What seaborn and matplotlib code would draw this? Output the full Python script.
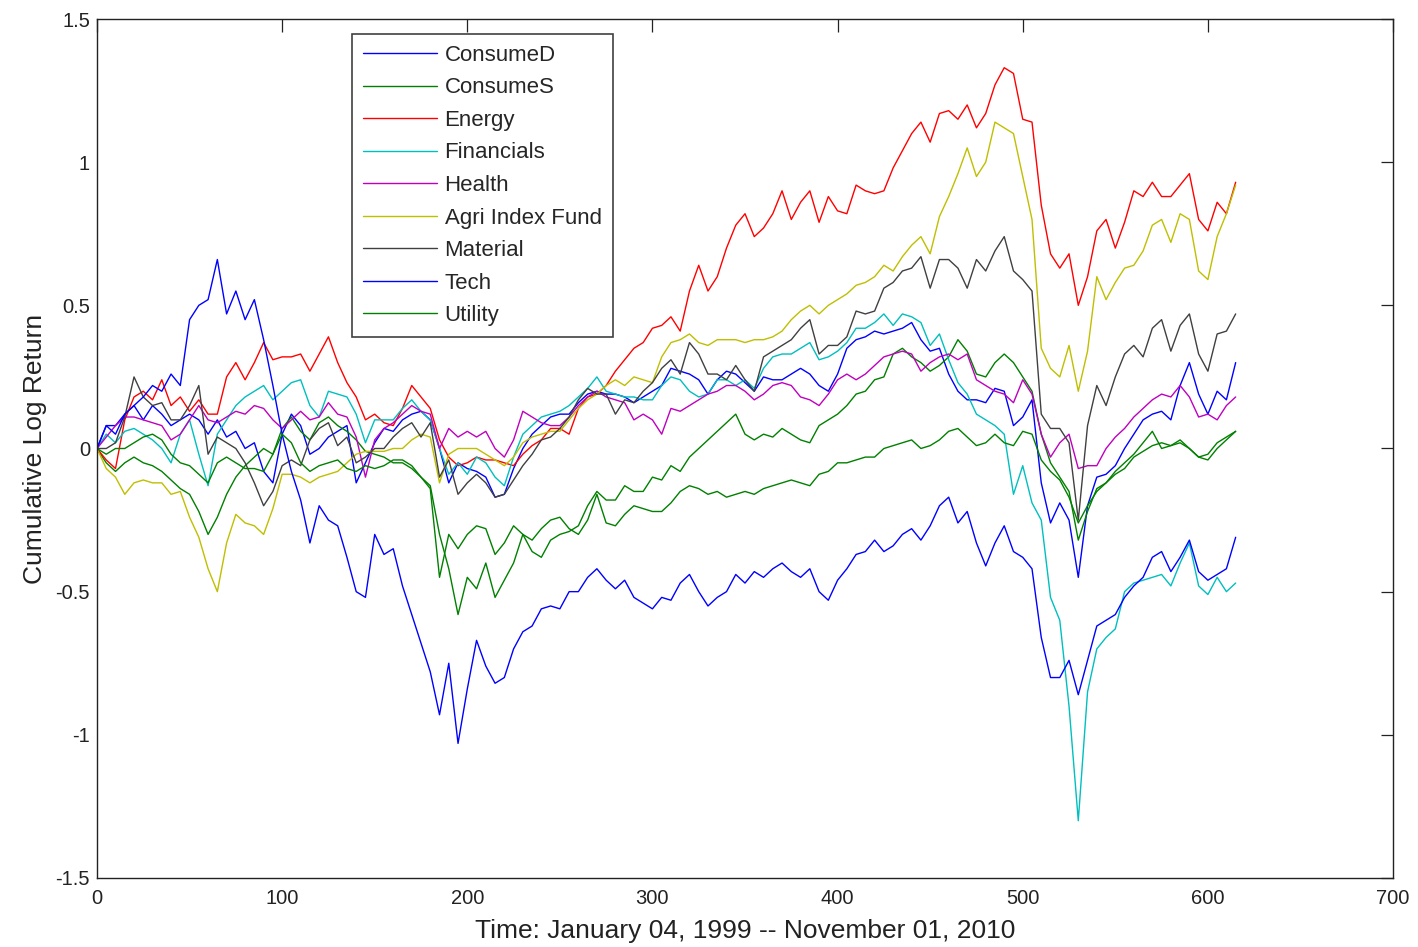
import numpy as np
import pandas as pd
import matplotlib
matplotlib.use("Agg")
import matplotlib.pyplot as plt
import seaborn as sns

# Weekly cumulative log returns, sampled every 5 weeks (week 0 .. 615)
weeks = list(range(0, 620, 5))

consume_d = [0.00, 0.08, 0.08, 0.12, 0.15, 0.10, 0.15, 0.12, 0.08, 0.10,
             0.12, 0.10, 0.05, 0.10, 0.04, 0.06, 0.00, 0.02, -0.08, -0.12,
             0.05, 0.12, 0.08, -0.02, 0.00, 0.04, 0.06, 0.08, -0.12, -0.05,
             0.02, 0.07, 0.06, 0.10, 0.12, 0.13, 0.10, 0.00, -0.12, -0.05,
             -0.07, -0.08, -0.10, -0.17, -0.16, -0.07, 0.00, 0.05, 0.08, 0.11,
             0.12, 0.12, 0.16, 0.19, 0.20, 0.19, 0.19, 0.18, 0.16, 0.18,
             0.20, 0.22, 0.28, 0.27, 0.26, 0.24, 0.19, 0.24, 0.27, 0.26,
             0.23, 0.20, 0.25, 0.24, 0.24, 0.26, 0.28, 0.26, 0.22, 0.20,
             0.26, 0.35, 0.38, 0.39, 0.41, 0.40, 0.41, 0.42, 0.44, 0.38,
             0.34, 0.35, 0.26, 0.20, 0.17, 0.17, 0.16, 0.21, 0.20, 0.08,
             0.11, 0.17, -0.12, -0.26, -0.19, -0.25, -0.45, -0.20, -0.10, -0.09,
             -0.06, 0.00, 0.05, 0.10, 0.12, 0.13, 0.10, 0.22, 0.30, 0.19,
             0.12, 0.20, 0.17, 0.30]

consume_s = [0.00, -0.05, -0.08, -0.05, -0.03, -0.05, -0.06, -0.08, -0.11, -0.14,
             -0.16, -0.22, -0.30, -0.24, -0.16, -0.10, -0.06, -0.03, 0.00, -0.02,
             0.07, 0.11, 0.06, 0.03, 0.09, 0.11, 0.08, 0.06, 0.03, -0.01,
             -0.02, -0.03, -0.05, -0.05, -0.07, -0.10, -0.13, -0.30, -0.42, -0.58,
             -0.45, -0.49, -0.40, -0.52, -0.46, -0.40, -0.30, -0.36, -0.38, -0.32,
             -0.30, -0.29, -0.27, -0.20, -0.15, -0.18, -0.18, -0.13, -0.15, -0.15,
             -0.10, -0.11, -0.06, -0.08, -0.03, 0.00, 0.03, 0.06, 0.09, 0.12,
             0.05, 0.03, 0.05, 0.04, 0.07, 0.05, 0.03, 0.02, 0.08, 0.10,
             0.12, 0.15, 0.19, 0.20, 0.24, 0.25, 0.33, 0.35, 0.32, 0.30,
             0.27, 0.29, 0.32, 0.38, 0.34, 0.26, 0.25, 0.30, 0.33, 0.30,
             0.25, 0.20, 0.05, -0.05, -0.10, -0.15, -0.32, -0.22, -0.14, -0.12,
             -0.08, -0.05, -0.02, 0.02, 0.06, 0.00, 0.01, 0.02, 0.00, -0.03,
             -0.02, 0.02, 0.04, 0.06]

energy = [0.00, -0.04, -0.07, 0.10, 0.18, 0.20, 0.17, 0.24, 0.15, 0.18,
          0.13, 0.17, 0.12, 0.12, 0.25, 0.30, 0.24, 0.30, 0.37, 0.31,
          0.32, 0.32, 0.33, 0.27, 0.33, 0.39, 0.30, 0.23, 0.18, 0.10,
          0.12, 0.09, 0.08, 0.14, 0.22, 0.18, 0.14, 0.03, -0.03, -0.06,
          -0.05, -0.03, -0.04, -0.04, -0.05, -0.06, -0.02, 0.01, 0.03, 0.07,
          0.07, 0.05, 0.14, 0.18, 0.19, 0.22, 0.27, 0.31, 0.35, 0.37,
          0.42, 0.43, 0.46, 0.41, 0.55, 0.64, 0.55, 0.60, 0.70, 0.78,
          0.82, 0.74, 0.77, 0.82, 0.90, 0.80, 0.86, 0.90, 0.79, 0.88,
          0.83, 0.82, 0.92, 0.90, 0.89, 0.90, 0.98, 1.04, 1.10, 1.14,
          1.07, 1.17, 1.18, 1.15, 1.20, 1.12, 1.17, 1.27, 1.33, 1.31,
          1.15, 1.14, 0.85, 0.68, 0.63, 0.68, 0.50, 0.60, 0.76, 0.80,
          0.70, 0.79, 0.90, 0.88, 0.93, 0.88, 0.88, 0.92, 0.96, 0.80,
          0.76, 0.86, 0.82, 0.93]

financials = [0.00, 0.05, 0.02, 0.06, 0.07, 0.05, 0.03, 0.00, -0.05, 0.05,
              0.10, -0.02, -0.13, 0.05, 0.10, 0.15, 0.18, 0.20, 0.22, 0.17,
              0.20, 0.23, 0.24, 0.15, 0.11, 0.20, 0.19, 0.18, 0.12, 0.02,
              0.10, 0.10, 0.10, 0.14, 0.17, 0.13, 0.10, 0.00, -0.09, -0.05,
              -0.09, -0.03, -0.05, -0.10, -0.13, -0.03, 0.05, 0.08, 0.11, 0.12,
              0.13, 0.15, 0.18, 0.21, 0.25, 0.20, 0.19, 0.18, 0.18, 0.17,
              0.17, 0.22, 0.25, 0.24, 0.20, 0.18, 0.19, 0.24, 0.24, 0.22,
              0.24, 0.21, 0.28, 0.32, 0.33, 0.33, 0.35, 0.37, 0.31, 0.32,
              0.34, 0.37, 0.42, 0.42, 0.44, 0.47, 0.43, 0.47, 0.46, 0.44,
              0.36, 0.40, 0.31, 0.23, 0.19, 0.12, 0.10, 0.08, 0.05, -0.16,
              -0.06, -0.19, -0.25, -0.52, -0.60, -0.90, -1.30, -0.85, -0.70, -0.66,
              -0.63, -0.50, -0.47, -0.46, -0.45, -0.44, -0.48, -0.40, -0.33, -0.48,
              -0.51, -0.45, -0.50, -0.47]

health = [0.00, 0.04, 0.08, 0.11, 0.11, 0.10, 0.09, 0.08, 0.03, 0.05,
          0.10, 0.15, 0.10, 0.09, 0.11, 0.13, 0.12, 0.15, 0.14, 0.10,
          0.07, 0.10, 0.13, 0.10, 0.11, 0.16, 0.12, 0.11, 0.04, -0.10,
          0.03, 0.07, 0.09, 0.12, 0.15, 0.13, 0.12, 0.00, 0.07, 0.04,
          0.06, 0.04, 0.06, 0.00, -0.03, 0.03, 0.13, 0.11, 0.09, 0.08,
          0.08, 0.11, 0.15, 0.18, 0.20, 0.18, 0.17, 0.16, 0.10, 0.12,
          0.10, 0.05, 0.14, 0.13, 0.15, 0.17, 0.19, 0.20, 0.22, 0.22,
          0.20, 0.17, 0.19, 0.22, 0.23, 0.22, 0.18, 0.17, 0.15, 0.19,
          0.24, 0.26, 0.24, 0.26, 0.29, 0.32, 0.33, 0.34, 0.33, 0.27,
          0.30, 0.32, 0.33, 0.31, 0.33, 0.24, 0.22, 0.20, 0.19, 0.16,
          0.24, 0.19, 0.05, -0.03, 0.02, 0.05, -0.07, -0.06, -0.06, 0.00,
          0.04, 0.07, 0.11, 0.14, 0.17, 0.19, 0.18, 0.22, 0.18, 0.11,
          0.12, 0.10, 0.15, 0.18]

agri_index = [0.00, -0.07, -0.10, -0.16, -0.12, -0.11, -0.12, -0.12, -0.16, -0.15,
              -0.24, -0.31, -0.42, -0.50, -0.33, -0.23, -0.26, -0.27, -0.30, -0.21,
              -0.09, -0.09, -0.10, -0.12, -0.10, -0.09, -0.08, -0.05, -0.02, -0.01,
              -0.01, -0.01, 0.00, 0.00, 0.03, 0.05, 0.04, -0.12, -0.02, 0.00,
              0.00, 0.00, -0.02, -0.04, -0.06, -0.03, 0.02, 0.04, 0.05, 0.06,
              0.06, 0.10, 0.14, 0.17, 0.19, 0.22, 0.24, 0.22, 0.25, 0.24,
              0.23, 0.32, 0.37, 0.38, 0.40, 0.37, 0.36, 0.38, 0.38, 0.38,
              0.37, 0.38, 0.38, 0.39, 0.41, 0.45, 0.48, 0.50, 0.47, 0.50,
              0.52, 0.54, 0.57, 0.58, 0.60, 0.64, 0.62, 0.67, 0.71, 0.74,
              0.68, 0.81, 0.88, 0.96, 1.05, 0.95, 1.00, 1.14, 1.12, 1.10,
              0.95, 0.80, 0.35, 0.28, 0.25, 0.36, 0.20, 0.34, 0.60, 0.52,
              0.58, 0.63, 0.64, 0.69, 0.78, 0.80, 0.72, 0.82, 0.80, 0.62,
              0.59, 0.74, 0.82, 0.92]

material = [0.00, 0.00, 0.02, 0.11, 0.25, 0.18, 0.15, 0.16, 0.10, 0.10,
            0.15, 0.22, -0.02, 0.04, 0.02, 0.00, -0.05, -0.12, -0.20, -0.15,
            -0.06, -0.04, -0.06, 0.03, 0.07, 0.09, 0.01, 0.04, -0.05, -0.03,
            0.00, 0.00, 0.04, 0.07, 0.09, 0.04, 0.09, -0.10, -0.04, -0.16,
            -0.12, -0.09, -0.12, -0.17, -0.16, -0.11, -0.06, -0.02, 0.03, 0.04,
            0.07, 0.11, 0.17, 0.21, 0.19, 0.19, 0.12, 0.17, 0.16, 0.20,
            0.23, 0.28, 0.31, 0.26, 0.37, 0.33, 0.26, 0.26, 0.24, 0.29,
            0.24, 0.20, 0.32, 0.34, 0.36, 0.38, 0.42, 0.45, 0.33, 0.36,
            0.36, 0.39, 0.48, 0.47, 0.48, 0.56, 0.58, 0.62, 0.63, 0.67,
            0.56, 0.66, 0.66, 0.63, 0.56, 0.66, 0.62, 0.69, 0.74, 0.62,
            0.59, 0.55, 0.12, 0.07, 0.07, 0.02, -0.25, 0.08, 0.22, 0.15,
            0.25, 0.33, 0.36, 0.32, 0.42, 0.45, 0.34, 0.43, 0.47, 0.33,
            0.27, 0.40, 0.41, 0.47]

tech = [0.00, 0.08, 0.05, 0.12, 0.15, 0.18, 0.22, 0.20, 0.26, 0.22,
        0.45, 0.50, 0.52, 0.66, 0.47, 0.55, 0.45, 0.52, 0.38, 0.22,
        0.05, -0.08, -0.18, -0.33, -0.20, -0.25, -0.27, -0.38, -0.50, -0.52,
        -0.30, -0.37, -0.35, -0.48, -0.58, -0.68, -0.78, -0.93, -0.75, -1.03,
        -0.84, -0.67, -0.76, -0.82, -0.80, -0.70, -0.64, -0.62, -0.56, -0.55,
        -0.56, -0.50, -0.50, -0.45, -0.42, -0.46, -0.49, -0.46, -0.52, -0.54,
        -0.56, -0.52, -0.53, -0.47, -0.44, -0.50, -0.55, -0.52, -0.50, -0.44,
        -0.47, -0.43, -0.45, -0.42, -0.40, -0.43, -0.45, -0.42, -0.50, -0.53,
        -0.46, -0.42, -0.37, -0.36, -0.32, -0.36, -0.34, -0.30, -0.28, -0.32,
        -0.27, -0.20, -0.17, -0.26, -0.22, -0.33, -0.41, -0.33, -0.27, -0.36,
        -0.38, -0.42, -0.66, -0.80, -0.80, -0.74, -0.86, -0.74, -0.62, -0.60,
        -0.58, -0.52, -0.48, -0.45, -0.38, -0.36, -0.43, -0.38, -0.32, -0.43,
        -0.46, -0.44, -0.42, -0.31]

utility = [0.00, -0.02, 0.00, 0.00, 0.02, 0.04, 0.05, 0.03, -0.02, -0.05,
           -0.06, -0.09, -0.12, -0.05, -0.03, -0.05, -0.07, -0.07, -0.08, -0.02,
           0.05, 0.02, -0.05, -0.08, -0.06, -0.05, -0.04, -0.07, -0.08, -0.06,
           -0.07, -0.06, -0.04, -0.04, -0.06, -0.10, -0.14, -0.45, -0.30, -0.35,
           -0.30, -0.27, -0.28, -0.37, -0.33, -0.27, -0.30, -0.32, -0.28, -0.25,
           -0.24, -0.28, -0.30, -0.25, -0.16, -0.26, -0.27, -0.23, -0.20, -0.21,
           -0.22, -0.22, -0.19, -0.15, -0.13, -0.14, -0.16, -0.15, -0.17, -0.16,
           -0.15, -0.16, -0.14, -0.13, -0.12, -0.11, -0.12, -0.13, -0.09, -0.08,
           -0.05, -0.05, -0.04, -0.03, -0.03, 0.00, 0.01, 0.02, 0.03, 0.00,
           0.01, 0.03, 0.06, 0.07, 0.04, 0.01, 0.02, 0.05, 0.02, 0.01,
           0.06, 0.05, -0.04, -0.08, -0.11, -0.17, -0.26, -0.20, -0.15, -0.12,
           -0.09, -0.07, -0.03, -0.01, 0.01, 0.02, 0.01, 0.03, 0.00, -0.03,
           -0.04, 0.00, 0.03, 0.06]

series_names = ["ConsumeD", "ConsumeS", "Energy", "Financials", "Health",
                "Agri Index Fund", "Material", "Tech", "Utility"]
series_values = [consume_d, consume_s, energy, financials, health,
                 agri_index, material, tech, utility]
series_colors = ["#0000ff", "#008000", "#ff0000", "#00bfbf", "#bf00bf",
                 "#bfbf00", "#404040", "#0000ff", "#008000"]

x_ticks = [0, 100, 200, 300, 400, 500, 600, 700]
y_ticks = [-1.5, -1, -0.5, 0, 0.5, 1, 1.5]
y_tick_labels = ["-1.5", "-1", "-0.5", "0", "0.5", "1", "1.5"]

for vals in series_values:
    assert len(vals) == len(weeks)

sns.set_style("white")
plt.rcParams["font.family"] = ["Liberation Sans", "DejaVu Sans"]

fig = plt.figure(figsize=(14.18, 9.47), dpi=100)
ax = fig.add_axes([0.0684, 0.0729, 0.914, 0.907])

for name, vals, color in zip(series_names, series_values, series_colors):
    df = pd.DataFrame({"week": weeks, "value": vals})
    sns.lineplot(data=df, x="week", y="value", color=color, linewidth=1.0,
                 label=name, ax=ax, legend=False)

ax.set_xlim(0, 700)
ax.set_ylim(-1.5, 1.5)
ax.set_xticks(x_ticks)
ax.set_xticklabels([str(t) for t in x_ticks])
ax.set_yticks(y_ticks)
ax.set_yticklabels(y_tick_labels)
ax.tick_params(direction="in", length=9, width=0.9, top=True, right=True,
               labelsize=14.5, colors="#222222", pad=5)
ax.tick_params(axis="x", pad=8)
for spine in ax.spines.values():
    spine.set_color("#222222")
    spine.set_linewidth(1.0)

ax.set_xlabel("Time: January 04, 1999 -- November 01, 2010", fontsize=19,
              color="#222222", labelpad=8)
ax.set_ylabel("Cumulative Log Return", fontsize=19, color="#222222",
              labelpad=6)

handles, labels = ax.get_legend_handles_labels()
leg = ax.legend(handles, labels, loc="upper left",
                bbox_to_anchor=(0.197, 0.983), fontsize=16, frameon=True,
                fancybox=False, edgecolor="#111111", handlelength=3.3,
                handletextpad=0.35, labelspacing=0.52, borderpad=0.5,
                borderaxespad=0)
leg.get_frame().set_linewidth(1.2)

fig.savefig("out.png", dpi=100)
